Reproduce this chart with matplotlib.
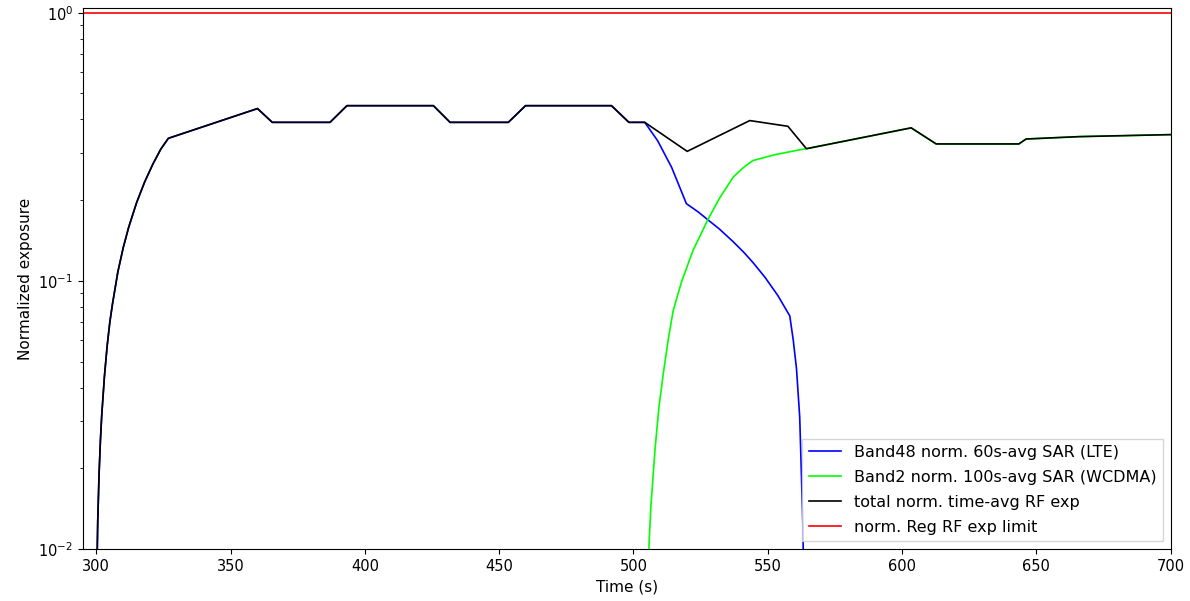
import numpy as np
import matplotlib
matplotlib.use("Agg")
import matplotlib.pyplot as plt

# ---- data ----
total_t = [299.6, 300.0, 300.5, 301.0, 301.5, 302.0, 303.0, 304.0, 305.0, 306.0, 308.0,
           310.0, 312.0, 315.0, 318.0, 321.0, 324.0, 326.8,
           360.0, 365.5, 387.0, 393.3, 425.5, 431.7, 453.4, 459.8, 491.8, 498.3, 504.2,
           520.0, 543.3, 557.5, 564.4, 603.4, 612.7, 643.5, 646.2, 666.0, 700.0]
total_v = [0.002, 0.0063, 0.0126, 0.019, 0.0253, 0.0316, 0.044, 0.057, 0.070, 0.082, 0.108,
           0.133, 0.158, 0.196, 0.234, 0.272, 0.310, 0.340,
           0.439, 0.390, 0.390, 0.450, 0.450, 0.390, 0.390, 0.450, 0.450, 0.390, 0.390,
           0.304, 0.396, 0.377, 0.311, 0.372, 0.324, 0.324, 0.338, 0.345, 0.351]

lte_t = [299.6, 300.0, 300.5, 301.0, 301.5, 302.0, 303.0, 304.0, 305.0, 306.0, 308.0,
         310.0, 312.0, 315.0, 318.0, 321.0, 324.0, 326.8,
         360.0, 365.5, 387.0, 393.3, 425.5, 431.7, 453.4, 459.8, 491.8, 498.3, 504.2,
         509.0, 514.2, 519.7, 524.0, 528.0, 532.0, 537.1, 541.0, 544.5, 549.0, 553.8, 558.2,
         559.5, 560.7, 561.9, 563.1, 563.8]
lte_v = [0.002, 0.0063, 0.0126, 0.019, 0.0253, 0.0316, 0.044, 0.057, 0.070, 0.082, 0.108,
         0.133, 0.158, 0.196, 0.234, 0.272, 0.310, 0.340,
         0.439, 0.390, 0.390, 0.450, 0.450, 0.390, 0.390, 0.450, 0.450, 0.390, 0.390,
         0.333, 0.265, 0.194, 0.181, 0.168, 0.156, 0.140, 0.128, 0.117, 0.103, 0.088, 0.074,
         0.060, 0.047, 0.031, 0.012, 0.003]

wcdma_t = [505.3, 505.8, 506.5, 508.0, 509.5, 511.1, 513.0, 514.8, 518.0, 522.2, 527.8,
           532.0, 537.1, 541.0, 544.5, 553.0, 561.9, 564.4,
           603.4, 612.7, 643.5, 646.2, 666.0, 700.0]
wcdma_v = [0.002, 0.0105, 0.0145, 0.0234, 0.034, 0.0451, 0.061, 0.0776, 0.100, 0.130, 0.170,
           0.203, 0.2435, 0.265, 0.281, 0.296, 0.308, 0.311,
           0.372, 0.324, 0.324, 0.338, 0.345, 0.351]

limit_t = [295.0, 700.0]
limit_v = [1.0, 1.0]

labels = ["Band48 norm. 60s-avg SAR (LTE)",
          "Band2 norm. 100s-avg SAR (WCDMA)",
          "total norm. time-avg RF exp",
          "norm. Reg RF exp limit"]

fig = plt.figure(figsize=(11.9, 6.01), dpi=100)
ax = fig.add_axes([0.0697, 0.0865, 0.914, 0.900])

ax.plot(lte_t, lte_v, color="#0000ff", lw=1.2, label=labels[0])
ax.plot(wcdma_t, wcdma_v, color="#00ff00", lw=1.2, label=labels[1])
ax.plot(total_t, total_v, color="black", lw=1.2, label=labels[2])
ax.plot(limit_t, limit_v, color="#ff0000", lw=1.2, label=labels[3])

ax.set_yscale("log")
ax.set_xlim(295, 700)
ax.set_ylim(0.01, 1.04)
ax.set_xticks([300, 350, 400, 450, 500, 550, 600, 650, 700])
ax.tick_params(labelsize=10.5)
ax.set_xlabel("Time (s)", fontsize=11)
ax.set_ylabel("Normalized exposure", fontsize=11)

ax.legend(loc="lower right", fontsize=11.5, fancybox=False, labelspacing=0.62)

fig.savefig("out.png", dpi=100)
